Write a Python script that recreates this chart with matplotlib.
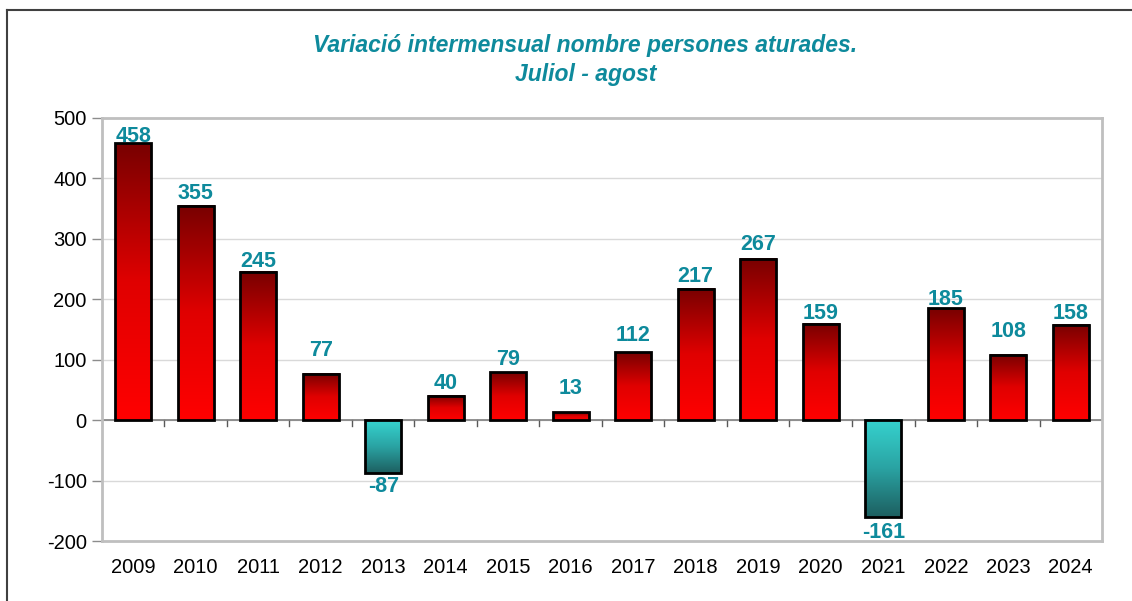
import numpy as np
import matplotlib.pyplot as plt
from matplotlib.colors import LinearSegmentedColormap
from matplotlib.lines import Line2D

plt.rcParams['font.family'] = ['Liberation Sans', 'DejaVu Sans']
plt.rcParams['axes.unicode_minus'] = False

years = ['2009', '2010', '2011', '2012', '2013', '2014', '2015', '2016',
         '2017', '2018', '2019', '2020', '2021', '2022', '2023', '2024']
values = [458, 355, 245, 77, -87, 40, 79, 13, 112, 217, 267, 159, -161, 185, 108, 158]
# visual gap (px) between label and bar end, the labels were hand placed
label_gap = [0, 6, 4, 17, 5, 6, 6, 17, 10, 6, 8, 4, 7, 2, 17, 5]

teal = '#0e8a9c'
pos_cmap = LinearSegmentedColormap.from_list('pos', ['#ff0000', '#e00000', '#780000'])
neg_cmap = LinearSegmentedColormap.from_list('neg', ['#1d5f60', '#2aa3a3', '#36d3cf'])

fig = plt.figure(figsize=(11.32, 6.01), dpi=100)
ax = fig.add_axes([0.0901, 0.0998, 0.8834, 0.7039])

x = np.arange(len(years))
w = 0.58
grad = np.linspace(0, 1, 256).reshape(-1, 1)
for xi, v in zip(x, values):
    cmap = pos_cmap if v >= 0 else neg_cmap
    ax.imshow(grad, cmap=cmap, origin='lower', aspect='auto',
              extent=[xi - w / 2, xi + w / 2, min(0, v), max(0, v)], zorder=2)
bars = ax.bar(x, values, width=w, facecolor='none', edgecolor='black', linewidth=2, zorder=3)

for xi, v, g in zip(x, values, label_gap):
    if v >= 0:
        ax.annotate(str(v), (xi, v), xytext=(0, (g - 4) * 0.72), textcoords='offset points',
                    ha='center', va='bottom', color=teal, fontsize=15.5, fontweight='bold', zorder=4)
    else:
        ax.annotate(str(v), (xi, v), xytext=(0, -(g - 2) * 0.72), textcoords='offset points',
                    ha='center', va='top', color=teal, fontsize=15.5, fontweight='bold', zorder=4)

ax.set_xlim(-0.5, len(years) - 0.5)
ax.set_ylim(-200, 500)
ax.set_yticks(range(-200, 501, 100))
ax.yaxis.grid(True, color='#d9d9d9', linewidth=1)
ax.set_axisbelow(True)
for s in ax.spines.values():
    s.set_color('#bfbfbf')
    s.set_linewidth(2)

ax.set_xticks(x)
ax.set_xticklabels(years)
ax.tick_params(axis='x', length=0, labelsize=14.5, pad=12)
ax.tick_params(axis='y', length=7, width=1, color='#8c8c8c', labelsize=14.5, pad=4)

# category separators on the zero line
for b in np.arange(0.5, len(years) - 0.5, 1.0):
    ax.plot([b, b], [0, -10], color='#595959', linewidth=1, zorder=1)
ax.axhline(0, color='#7f7f7f', linewidth=1.2, zorder=1)

fig.text(0.517, 0.9, 'Variació intermensual nombre persones aturades.\nJuliol - agost',
         ha='center', va='center', color=teal, fontsize=16.5, fontweight='bold',
         fontstyle='italic', linespacing=1.3)

fig.add_artist(Line2D([0.0065, 0.0065], [0, 0.983], color='#404040', linewidth=1.5))
fig.add_artist(Line2D([0.0065, 1.0], [0.983, 0.983], color='#404040', linewidth=1.5))

fig.savefig('out.png', dpi=100)
